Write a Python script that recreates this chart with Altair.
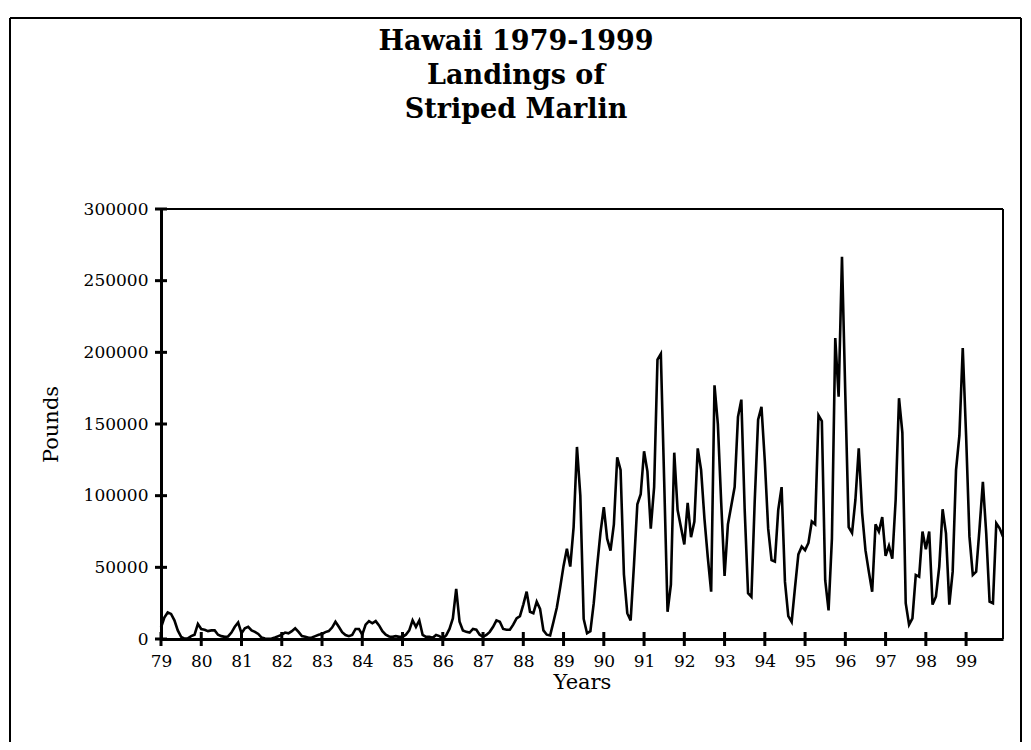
import altair as alt
import pandas as pd

# Monthly landings of striped marlin, Hawaii (pounds), Jan..Dec of each year
y1979 = [8000, 15000, 18500, 17500, 13000, 6000, 1500, 300, 500, 2000, 3000, 10500]
y1980 = [7000, 6500, 5500, 6000, 6000, 3000, 2000, 1500, 1800, 4500, 8500, 11500]
y1981 = [4000, 7500, 8500, 6000, 5000, 3500, 1000, 300, 200, 300, 1000, 2000]
y1982 = [3000, 4500, 4000, 5500, 7500, 5000, 2000, 1500, 800, 1000, 2000, 3000]
y1983 = [3500, 4800, 5500, 8000, 12000, 8500, 4800, 2800, 2000, 2800, 7000, 7000]
y1984 = [3000, 10000, 12500, 11000, 12500, 9500, 5500, 3000, 1800, 1500, 2000, 1500]
y1985 = [1500, 3000, 6000, 13000, 8500, 13000, 2800, 1500, 1500, 800, 2800, 2000]
y1986 = [500, 2500, 7000, 14400, 35000, 12000, 6000, 5000, 4500, 7000, 6500, 3000]
y1987 = [1500, 2800, 5000, 8500, 13000, 12000, 7000, 6500, 6500, 10000, 14400, 16000]
y1988 = [24000, 33000, 19000, 18000, 26000, 21000, 6000, 3000, 2500, 12000, 22000, 36000]
y1989 = [51000, 63000, 50500, 78000, 134000, 100000, 14000, 4000, 5500, 25000, 50500, 74000]
y1990 = [92000, 70000, 61600, 80000, 126800, 118000, 45000, 18000, 13000, 52000, 94000, 101000]
y1991 = [131000, 117000, 77000, 106000, 195000, 199000, 110000, 19000, 38000, 130000, 90000, 78000]
y1992 = [66000, 95000, 71000, 82000, 133000, 118000, 84000, 57000, 33000, 177000, 150000, 95000]
y1993 = [44000, 80000, 93000, 106000, 155000, 167000, 90000, 32000, 29500, 97000, 153000, 162000]
y1994 = [124000, 77000, 55000, 54000, 90000, 106000, 40000, 16000, 12000, 36000, 59000, 64500]
y1995 = [62000, 67000, 82000, 80000, 156000, 152000, 41000, 20000, 70000, 210000, 169000, 266700]
y1996 = [170000, 78000, 74000, 97000, 133000, 88000, 62000, 47000, 33000, 80000, 75000, 85000]
y1997 = [58000, 65000, 56000, 97000, 168000, 144000, 25000, 10000, 14400, 44700, 43500, 75000]
y1998 = [62600, 75000, 24000, 29500, 50500, 90500, 73700, 24000, 47000, 118000, 142000, 203000]
y1999 = [142000, 71400, 44700, 47000, 77000, 109700, 73700, 26000, 24900, 80700, 77200, 71400]

series = [y1979, y1980, y1981, y1982, y1983, y1984, y1985, y1986, y1987, y1988,
          y1989, y1990, y1991, y1992, y1993, y1994, y1995, y1996, y1997, y1998, y1999]

x_ticks = list(range(79, 100))
y_ticks = [0, 50000, 100000, 150000, 200000, 250000, 300000]
title_lines = ["Hawaii 1979-1999", "Landings of", "Striped Marlin"]
x_title = "Years"
y_title = "Pounds"

rows = []
for k, vals in enumerate(series):
    for m, v in enumerate(vals):
        rows.append({"t": 79 + k + m / 12.0, "v": v})
df = pd.DataFrame(rows)

W, H = 842, 430
FONT = "DejaVu Serif"
X_DOMAIN = [79, 79 + 251 / 12.0]
Y_DOMAIN = [0, 300000]

x_axis = alt.Axis(
    values=x_ticks, format="d", grid=False, title=x_title, ticks=False,
    labelPadding=14, labelFont=FONT, labelFontSize=17, labelColor="black",
    labelFlush=False,
    titleFont=FONT, titleFontSize=21, titleFontWeight="normal", titleColor="black",
    titleY=43, titleBaseline="middle",
    domainWidth=3, domainColor="black")
y_axis = alt.Axis(
    values=y_ticks, format="d", grid=False, title=y_title, ticks=False,
    labelPadding=13, labelFont=FONT, labelFontSize=17, labelColor="black",
    labelFlush=False,
    titleFont=FONT, titleFontSize=21, titleFontWeight="normal", titleColor="black",
    titleX=-110, titleY=215, titleBaseline="middle",
    domainWidth=3, domainColor="black")

line = alt.Chart(df).mark_line(color="black", strokeWidth=2.6).encode(
    x=alt.X("t:Q", scale=alt.Scale(domain=X_DOMAIN, nice=False, zero=False), axis=x_axis),
    y=alt.Y("v:Q", scale=alt.Scale(domain=Y_DOMAIN, nice=False), axis=y_axis),
)

# crossing tick marks, on their own (identical) scales
xt = alt.Chart(alt.Data(values=[{"xt": t} for t in x_ticks])).mark_rule(
    strokeWidth=3, color="black"
).encode(x=alt.X("xt:Q", scale=alt.Scale(domain=X_DOMAIN, nice=False, zero=False), axis=None),
         y=alt.value(H - 7), y2=alt.value(H + 7))

yt = alt.Chart(alt.Data(values=[{"yt": v} for v in y_ticks])).mark_rule(
    strokeWidth=3, color="black"
).encode(y=alt.Y("yt:Q", scale=alt.Scale(domain=Y_DOMAIN, nice=False), axis=None),
         x=alt.value(-6), x2=alt.value(6))

# top and right edges of the plot box
box_top = alt.Chart(alt.Data(values=[{}])).mark_rule(color="black", strokeWidth=2).encode(
    x=alt.value(0), x2=alt.value(W), y=alt.value(0))
box_right = alt.Chart(alt.Data(values=[{}])).mark_rule(color="black", strokeWidth=2).encode(
    x=alt.value(W), y=alt.value(0), y2=alt.value(H))

title = alt.Chart(alt.Data(values=[{}])).mark_text(
    text=title_lines, font=FONT, fontSize=27, fontWeight="bold", lineHeight=34,
    align="center", baseline="alphabetic", color="black"
).encode(x=alt.value(355), y=alt.value(-159))

# outer frame drawn as three rules (top, left, right)
frame_top = alt.Chart(alt.Data(values=[{}])).mark_rule(color="black", strokeWidth=2).encode(
    x=alt.value(-151), x2=alt.value(860), y=alt.value(-191))
frame_left = alt.Chart(alt.Data(values=[{}])).mark_rule(color="black", strokeWidth=2).encode(
    x=alt.value(-151), y=alt.value(-191), y2=alt.value(545))
frame_right = alt.Chart(alt.Data(values=[{}])).mark_rule(color="black", strokeWidth=2).encode(
    x=alt.value(860), y=alt.value(-191), y2=alt.value(545))

chart = alt.layer(line, xt, yt, box_top, box_right, frame_top, frame_left, frame_right, title).resolve_scale(
    x="independent", y="independent"
).properties(
    width=W, height=H,
    autosize=alt.AutoSizeParams(type="none"),
    padding={"left": 153, "top": 201, "right": 20, "bottom": 103},
).configure_view(strokeWidth=0)

chart.save("out.html", embed_options={"renderer": "svg", "actions": False})
